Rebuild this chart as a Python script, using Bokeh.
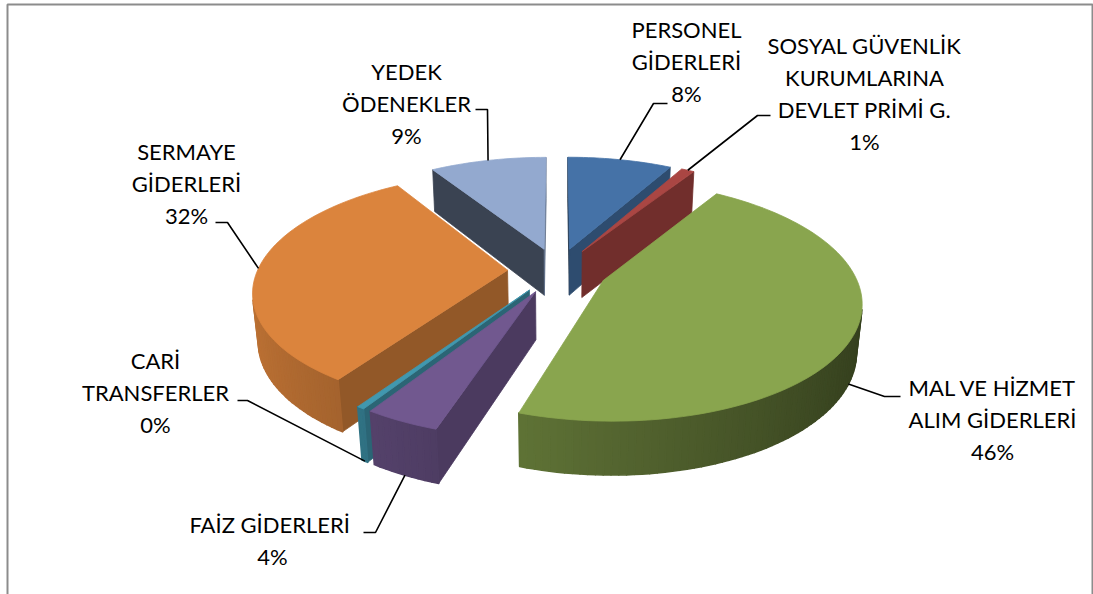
import numpy as np
from bokeh.plotting import figure
from bokeh.models import Range1d, ColumnDataSource
from bokeh.embed import file_html
from bokeh.resources import INLINE
from bokeh.core.properties import value

# ---------------- data ----------------
categories = [
    "PERSONEL\nGİDERLERİ",
    "SOSYAL GÜVENLİK\nKURUMLARINA\nDEVLET PRİMİ G.",
    "MAL VE HİZMET\nALIM GİDERLERİ",
    "FAİZ  GİDERLERİ",
    "CARİ\nTRANSFERLER",
    "SERMAYE\nGİDERLERİ",
    "YEDEK\nÖDENEKLER",
]
shares = [8.0, 1.0, 46.0, 4.0, 0.4, 31.7, 8.9]
colors = ["#4572A7", "#AA4643", "#89A54E", "#71588F", "#4198AF", "#DB843D", "#93A9CF"]

# ---------------- layout (screen px) ----------------
W, HGT = 1093, 594
CX, CY, K = 557, 270, 250
SIN_E, COS_E = 0.455, 0.891
DIST = 5.35
EXPLODE = 0.2
DEPTH = 0.215
LINE_GAP = 32
# label block: centre x, first line centre y
label_pos = [(686, 29), (864, 45), (992, 387), (272, 524), (155, 360), (186, 151), (406, 71)]
# leader lines: elbow and end points
leader_elbow = [(653, 103), (757, 115), (884, 396), (375, 532), (247, 400), (227, 222), (487, 109)]
leader_end = [(667, 103), (770, 115), (900, 396), (363, 532), (237, 400), (215, 222), (475, 109)]

CAM = (0.0, -DIST * COS_E, DIST * SIN_E)


def proj(X, Y, Z):
    v = Y * SIN_E + Z * COS_E
    w = Y * COS_E - Z * SIN_E
    s = DIST / (DIST + w)
    return CX + K * X * s, CY - K * v * s


def shade(hx, f):
    hx = hx.lstrip("#")
    r, g, b = (int(hx[k:k + 2], 16) for k in (0, 2, 4))
    f = max(0.0, min(1.0, f))
    return "#%02x%02x%02x" % (int(r * f), int(g * f), int(b * f))


n = len(shares)
total = float(sum(shares))
cum = np.cumsum([0.0] + shares)
starts = cum[:-1] / total * 2 * np.pi
ends = cum[1:] / total * 2 * np.pi
mids = (starts + ends) / 2

order = sorted(range(n), key=lambda i: -np.cos(mids[i]))

xs, ys, fills, lws = [], [], [], []


def add(pts, col, lw):
    px, py = zip(*[proj(*p) for p in pts])
    xs.append(list(px))
    ys.append(list(py))
    fills.append(col)
    lws.append(lw)


for i in order:
    a0, a1, m = starts[i], ends[i], mids[i]
    ox, oy = EXPLODE * np.sin(m), EXPLODE * np.cos(m)
    nseg = max(2, int(np.degrees(a1 - a0) / 1.5) + 1)
    th = np.linspace(a0, a1, nseg + 1)
    # radial faces
    for t, nrm in ((a0, a0 - np.pi / 2), (a1, a1 + np.pi / 2)):
        nx, ny = np.sin(nrm), np.cos(nrm)
        px, py = ox + 0.5 * np.sin(t), oy + 0.5 * np.cos(t)
        if nx * (CAM[0] - px) + ny * (CAM[1] - py) > 0:
            rx, ry = ox + np.sin(t), oy + np.cos(t)
            f = 0.67 if nx > 0 else 0.4
            add([(ox, oy, 0), (rx, ry, 0), (rx, ry, -DEPTH), (ox, oy, -DEPTH)], shade(colors[i], f), 0.8)
    # outer curved side
    for j in range(nseg):
        t0, t1 = th[j], th[j + 1]
        tm = (t0 + t1) / 2
        nx, ny = np.sin(tm), np.cos(tm)
        px, py = ox + nx, oy + ny
        if nx * (CAM[0] - px) + ny * (CAM[1] - py) > 0:
            p0 = (ox + np.sin(t0), oy + np.cos(t0))
            p1 = (ox + np.sin(t1), oy + np.cos(t1))
            add([(p0[0], p0[1], 0), (p1[0], p1[1], 0), (p1[0], p1[1], -DEPTH), (p0[0], p0[1], -DEPTH)],
                shade(colors[i], 0.62 - 0.24 * np.sin(tm)), 1.6)
    # top face
    pts = [(ox, oy, 0)] + [(ox + np.sin(t), oy + np.cos(t), 0) for t in th]
    add(pts, colors[i], 0.8)

p = figure(width=W, height=HGT, x_range=Range1d(0, W), y_range=Range1d(HGT, 0),
           output_backend="svg", toolbar_location=None, min_border=0)
p.axis.visible = False
p.grid.visible = False
p.outline_line_color = None
p.background_fill_color = "white"
p.border_fill_color = "white"

# chart frame
p.line([7, 7, 1092, 1092], [620, 4, 4, 620], line_color="#8c8c8c", line_width=2)

src = ColumnDataSource(dict(xs=xs, ys=ys, fill=fills, lw=lws))
p.patches("xs", "ys", source=src, fill_color="fill", line_color="fill", line_width="lw",
          line_join="round")

# leader lines
lx, ly = [], []
for i in range(n):
    m = mids[i]
    X = (1 + EXPLODE) * np.sin(m)
    Y = (1 + EXPLODE) * np.cos(m)
    Z = 0.0 if np.cos(m) >= 0 else -DEPTH
    ax, ay = proj(X, Y, Z)
    lx.append([ax, leader_elbow[i][0], leader_end[i][0]])
    ly.append([ay, leader_elbow[i][1], leader_end[i][1]])
p.multi_line(lx, ly, line_color="black", line_width=1.6)

# labels
tx, ty, tt = [], [], []
for i in range(n):
    lines = categories[i].split("\n") + ["%d%%" % int(round(shares[i] / total * 100))]
    cxl, y0 = label_pos[i]
    for k, s in enumerate(lines):
        tx.append(cxl)
        ty.append(y0 + k * LINE_GAP)
        tt.append(s)
p.text(tx, ty, text=tt, text_align="center", text_baseline="middle",
       text_font=value("Lato"), text_font_size="22px", text_color="black")

open("out.html", "w").write(file_html(p, INLINE))
